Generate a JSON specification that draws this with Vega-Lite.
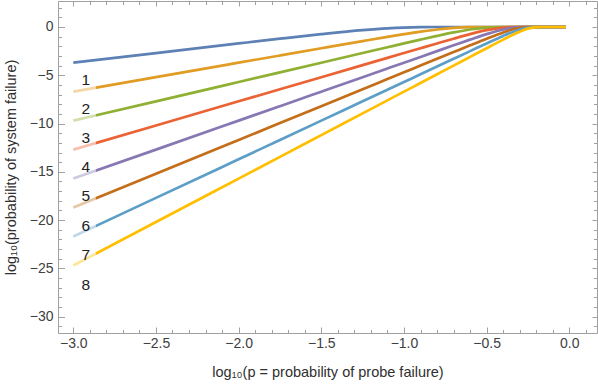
{
  "$schema": "https://vega.github.io/schema/vega-lite/v6.json",
  "width": 539,
  "height": 332,
  "autosize": {"type": "none"},
  "padding": {"left": 58, "top": 1, "right": 1, "bottom": 52},
  "background": "white",
  "config": {
    "font": "Liberation Sans",
    "view": {"stroke": "#a0a0a0", "strokeWidth": 1},
    "axis": {
      "domain": false,
      "grid": false,
      "tickColor": "#a0a0a0",
      "tickWidth": 1,
      "labelColor": "#404040",
      "labelFontSize": 14,
      "labelFont": "Liberation Sans",
      "titleFont": "Liberation Sans",
      "titleFontSize": 14.5,
      "titleColor": "#303030",
      "titleFontWeight": "normal",
      "labelOverlap": false,
      "labelFlush": false
    }
  },
  "datasets": {
    "curves": [
      {"x": -3.0, "s1": -3.699, "s2": -6.699, "s3": -9.699, "s4": -12.699, "s5": -15.699, "s6": -18.699, "s7": -21.699, "s8": -24.699},
      {"x": -2.5, "s1": -2.699, "s2": -5.199, "s3": -7.699, "s4": -10.199, "s5": -12.699, "s6": -15.199, "s7": -17.699, "s8": -20.199},
      {"x": -2.0, "s1": -1.703, "s2": -3.699, "s3": -5.699, "s4": -7.699, "s5": -9.699, "s6": -11.699, "s7": -13.699, "s8": -15.699},
      {"x": -1.75, "s1": -1.213, "s2": -2.949, "s3": -4.699, "s4": -6.449, "s5": -8.199, "s6": -9.949, "s7": -11.699, "s8": -13.449},
      {"x": -1.5, "s1": -0.742, "s2": -2.2, "s3": -3.699, "s4": -5.199, "s5": -6.699, "s6": -8.199, "s7": -9.699, "s8": -11.199},
      {"x": -1.25, "s1": -0.329, "s2": -1.457, "s3": -2.699, "s4": -3.949, "s5": -5.199, "s6": -6.449, "s7": -7.699, "s8": -8.949},
      {"x": -1.1, "s1": -0.144, "s2": -1.02, "s3": -2.101, "s4": -3.199, "s5": -4.299, "s6": -5.399, "s7": -6.499, "s8": -7.599},
      {"x": -1.0, "s1": -0.063, "s2": -0.742, "s3": -1.703, "s4": -2.699, "s5": -3.699, "s6": -4.699, "s7": -5.699, "s8": -6.699},
      {"x": -0.9, "s1": -0.018, "s2": -0.482, "s3": -1.31, "s4": -2.2, "s5": -3.099, "s6": -3.999, "s7": -4.899, "s8": -5.799},
      {"x": -0.8, "s1": -0.003, "s2": -0.26, "s3": -0.926, "s4": -1.703, "s5": -2.5, "s6": -3.299, "s7": -4.099, "s8": -4.899},
      {"x": -0.7, "s1": 0, "s2": -0.099, "s3": -0.566, "s4": -1.213, "s5": -1.902, "s6": -2.6, "s7": -3.299, "s8": -3.999},
      {"x": -0.6, "s1": 0, "s2": -0.018, "s3": -0.26, "s4": -0.742, "s5": -1.31, "s6": -1.902, "s7": -2.5, "s8": -3.099},
      {"x": -0.5, "s1": 0, "s2": -0.001, "s3": -0.063, "s4": -0.329, "s5": -0.742, "s6": -1.213, "s7": -1.703, "s8": -2.2},
      {"x": -0.4, "s1": 0, "s2": 0, "s3": -0.003, "s4": -0.063, "s5": -0.26, "s6": -0.566, "s7": -0.926, "s8": -1.31},
      {"x": -0.35, "s1": 0, "s2": 0, "s3": 0, "s4": -0.012, "s5": -0.099, "s6": -0.294, "s7": -0.566, "s8": -0.879},
      {"x": -0.3, "s1": 0, "s2": 0, "s3": 0, "s4": -0.001, "s5": -0.018, "s6": -0.099, "s7": -0.26, "s8": -0.482},
      {"x": -0.25, "s1": 0, "s2": 0, "s3": 0, "s4": 0, "s5": -0.001, "s6": -0.012, "s7": -0.063, "s8": -0.17},
      {"x": -0.2, "s1": 0, "s2": 0, "s3": 0, "s4": 0, "s5": 0, "s6": 0, "s7": -0.003, "s8": -0.018},
      {"x": -0.15, "s1": 0, "s2": 0, "s3": 0, "s4": 0, "s5": 0, "s6": 0, "s7": 0, "s8": 0},
      {"x": -0.1, "s1": 0, "s2": 0, "s3": 0, "s4": 0, "s5": 0, "s6": 0, "s7": 0, "s8": 0},
      {"x": -0.05, "s1": 0, "s2": 0, "s3": 0, "s4": 0, "s5": 0, "s6": 0, "s7": 0, "s8": 0},
      {"x": -0.02, "s1": 0, "s2": 0, "s3": 0, "s4": 0, "s5": 0, "s6": 0, "s7": 0, "s8": 0}
    ],
    "labels": [
      {"label": "1", "x": -2.925, "y": -5.5},
      {"label": "2", "x": -2.925, "y": -8.45},
      {"label": "3", "x": -2.925, "y": -11.45},
      {"label": "4", "x": -2.925, "y": -14.45},
      {"label": "5", "x": -2.925, "y": -17.55},
      {"label": "6", "x": -2.925, "y": -20.6},
      {"label": "7", "x": -2.925, "y": -23.65},
      {"label": "8", "x": -2.925, "y": -26.7}
    ]
  },
  "layer": [
    {
      "data": {"name": "curves"},
      "transform": [{"fold": ["s1", "s2", "s3", "s4", "s5", "s6", "s7", "s8"], "as": ["series", "y"]}],
      "mark": {"type": "line", "strokeWidth": 2.7, "interpolate": "monotone", "clip": true},
      "encoding": {
        "x": {
          "field": "x", "type": "quantitative",
          "scale": {"domain": [-3.0925, 0.1675], "nice": false, "zero": false},
          "axis": {
            "orient": "bottom",
            "values": [-3.0, -2.9, -2.8, -2.7, -2.6, -2.5, -2.4, -2.3, -2.2, -2.1, -2.0, -1.9, -1.8, -1.7, -1.6, -1.5, -1.4, -1.3, -1.2, -1.1, -1.0, -0.9, -0.8, -0.7, -0.6, -0.5, -0.4, -0.3, -0.2, -0.1, 0.0, 0.1],
            "tickSize": {"condition": {"test": "abs(datum.value*2 - round(datum.value*2)) < 0.001", "value": -6}, "value": -3.5},
            "labelExpr": "abs(datum.value*2 - round(datum.value*2)) < 0.001 ? format(datum.value, '.1f') : ''",
            "labelPadding": 9,
            "title": "log₁₀(p = probability of probe failure)",
            "titlePadding": 13
          }
        },
        "y": {
          "field": "y", "type": "quantitative",
          "scale": {"domain": [-31.69, 2.69], "nice": false, "zero": false},
          "axis": {
            "orient": "left",
            "values": [-31, -30, -29, -28, -27, -26, -25, -24, -23, -22, -21, -20, -19, -18, -17, -16, -15, -14, -13, -12, -11, -10, -9, -8, -7, -6, -5, -4, -3, -2, -1, 0, 1, 2],
            "tickSize": {"condition": {"test": "datum.value % 5 == 0", "value": -6.5}, "value": -3.5},
            "labelExpr": "datum.value % 5 == 0 ? format(datum.value, 'd') : ''",
            "labelPadding": 11.5,
            "title": "log₁₀(probability of system failure)",
            "titlePadding": 11
          }
        },
        "color": {
          "field": "series", "type": "nominal",
          "scale": {
            "domain": ["s1", "s2", "s3", "s4", "s5", "s6", "s7", "s8"],
            "range": ["#5E81B5", "#E19C24", "#8FB032", "#EB6235", "#8778B3", "#C56E1A", "#5D9EC7", "#FFBF00"]
          },
          "legend": null
        }
      }
    },
    {
      "data": {"name": "labels"},
      "mark": {"type": "point", "shape": "square", "filled": true, "color": "white", "opacity": 0.6, "size": 625, "strokeWidth": 0, "xOffset": -2.3, "yOffset": 1.3},
      "encoding": {
        "x": {"field": "x", "type": "quantitative", "axis": null},
        "y": {"field": "y", "type": "quantitative", "axis": null}
      }
    },
    {
      "data": {"name": "labels"},
      "mark": {"type": "text", "fontSize": 15.5, "color": "#222222", "font": "Liberation Sans", "baseline": "middle", "align": "center"},
      "encoding": {
        "x": {"field": "x", "type": "quantitative", "axis": null},
        "y": {"field": "y", "type": "quantitative", "axis": null},
        "text": {"field": "label"}
      }
    },
    {
      "data": {"name": "labels"},
      "mark": {"type": "point", "opacity": 0},
      "encoding": {
        "x": {
          "field": "x", "type": "quantitative",
          "axis": {
            "orient": "top",
            "values": [-3.0, -2.9, -2.8, -2.7, -2.6, -2.5, -2.4, -2.3, -2.2, -2.1, -2.0, -1.9, -1.8, -1.7, -1.6, -1.5, -1.4, -1.3, -1.2, -1.1, -1.0, -0.9, -0.8, -0.7, -0.6, -0.5, -0.4, -0.3, -0.2, -0.1, 0.0, 0.1],
            "tickSize": {"condition": {"test": "abs(datum.value*2 - round(datum.value*2)) < 0.001", "value": -5}, "value": -3.5},
            "labels": false,
            "title": null
          }
        },
        "y": {
          "field": "y", "type": "quantitative",
          "axis": {
            "orient": "right",
            "values": [-31, -30, -29, -28, -27, -26, -25, -24, -23, -22, -21, -20, -19, -18, -17, -16, -15, -14, -13, -12, -11, -10, -9, -8, -7, -6, -5, -4, -3, -2, -1, 0, 1, 2],
            "tickSize": {"condition": {"test": "datum.value % 5 == 0", "value": -5}, "value": -3.5},
            "labels": false,
            "title": null
          }
        }
      }
    }
  ],
  "resolve": {"axis": {"x": "independent", "y": "independent"}}
}
